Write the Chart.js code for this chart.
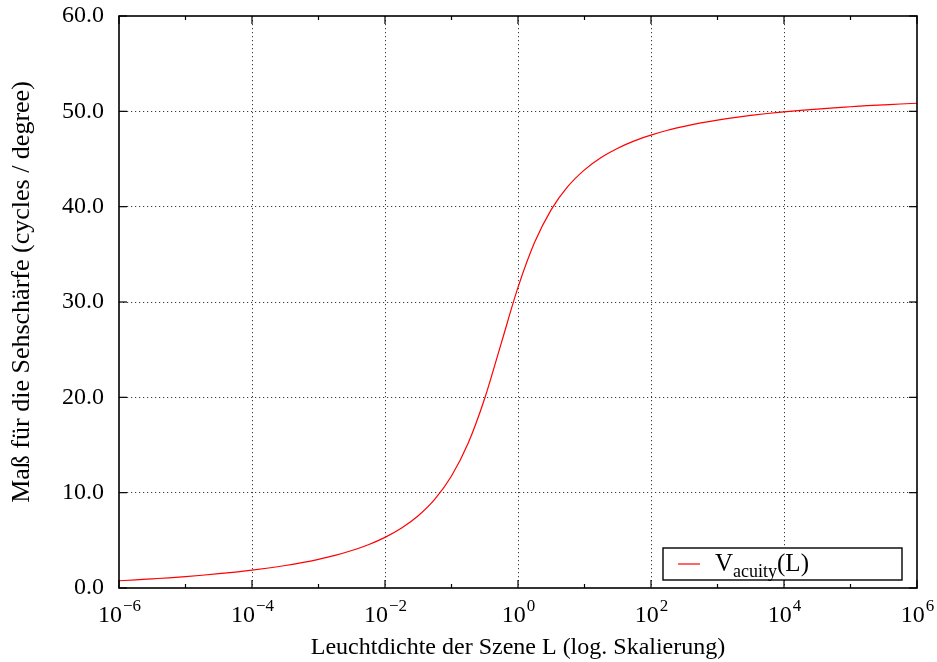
<!DOCTYPE html>
<html>
<head>
<meta charset="utf-8">
<title>Sehschärfe</title>
<script src="https://cdn.jsdelivr.net/npm/chart.js@4.4.1/dist/chart.umd.min.js"></script>
<style>
  body { margin: 0; background: #fff; }
</style>
</head>
<body>
<canvas id="acuityChart" width="937" height="662"></canvas>
<script>
// Leuchtdichte as powers of ten, one point every quarter decade
const logLuminance = [
  -6, -5.75, -5.5, -5.25, -5, -4.75, -4.5, -4.25, -4, -3.75, -3.5, -3.25,
  -3, -2.75, -2.5, -2.25, -2, -1.75, -1.5, -1.25, -1, -0.75, -0.5, -0.25,
  0, 0.25, 0.5, 0.75, 1, 1.25, 1.5, 1.75, 2, 2.25, 2.5, 2.75,
  3, 3.25, 3.5, 3.75, 4, 4.25, 4.5, 4.75, 5, 5.25, 5.5, 5.75, 6
];
// Sehschärfe in cycles / degree
const acuity = [
  0.76, 0.85, 0.96, 1.07, 1.20, 1.34, 1.50, 1.67, 1.87, 2.10, 2.36, 2.66,
  3.01, 3.42, 3.93, 4.54, 5.31, 6.29, 7.58, 9.32, 11.75, 15.18, 19.91, 25.72,
  31.53, 36.26, 39.69, 42.12, 43.86, 45.15, 46.13, 46.90, 47.51, 48.02, 48.43, 48.78,
  49.08, 49.34, 49.57, 49.77, 49.94, 50.10, 50.24, 50.37, 50.48, 50.59, 50.68, 50.77, 50.85
];
const xDecades = [-6, -5, -4, -3, -2, -1, 0, 1, 2, 3, 4, 5, 6];
const yTicks = [0, 10, 20, 30, 40, 50, 60];
const seriesName = ['V', 'acuity', '(L)'];
const xTitle = 'Leuchtdichte der Szene L (log. Skalierung)';
const yTitle = 'Maß für die Sehschärfe (cycles / degree)';

const FONT = '"Liberation Serif", "Times New Roman", serif';
const gridColor = '#3a3a3a';

const points = logLuminance.map((e, i) => ({ x: Math.pow(10, e), y: acuity[i] }));

// gnuplot-like frame: inward ticks, 10^n labels, y title and the key box
const gnuFrame = {
  id: 'gnuFrame',
  afterDatasetsDraw(chart) {
    const { ctx, chartArea: a, scales: { x, y } } = chart;
    ctx.save();
    ctx.strokeStyle = '#000';
    ctx.lineWidth = 1.2;
    const seg = (x1, y1, x2, y2) => {
      ctx.beginPath(); ctx.moveTo(x1, y1); ctx.lineTo(x2, y2); ctx.stroke();
    };
    xDecades.forEach(e => {
      const px = x.getPixelForValue(Math.pow(10, e));
      const len = e % 2 === 0 ? 8 : 4;
      seg(px, a.bottom, px, a.bottom - len);
      seg(px, a.top, px, a.top + len);
    });
    yTicks.forEach(v => {
      const py = y.getPixelForValue(v);
      seg(a.left, py, a.left + 8, py);
      seg(a.right, py, a.right - 8, py);
    });
    ctx.lineWidth = 1.6;
    ctx.strokeRect(a.left, a.top, a.right - a.left, a.bottom - a.top);

    // x tick labels: 10 with a raised exponent
    ctx.fillStyle = '#000';
    ctx.textBaseline = 'alphabetic';
    ctx.textAlign = 'left';
    xDecades.filter(e => e % 2 === 0).forEach(e => {
      const px = x.getPixelForValue(Math.pow(10, e));
      const exp = e < 0 ? '\u2212' + Math.abs(e) : String(e);
      ctx.font = '24px ' + FONT;
      const wBase = ctx.measureText('10').width;
      ctx.font = '17px ' + FONT;
      const wExp = ctx.measureText(exp).width;
      const x0 = px - (wBase + wExp) / 2;
      ctx.font = '24px ' + FONT;
      ctx.fillText('10', x0, a.bottom + 34);
      ctx.font = '17px ' + FONT;
      ctx.fillText(exp, x0 + wBase + 1, a.bottom + 23);
    });

    // y title, read bottom to top
    ctx.save();
    ctx.translate(22, 292);
    ctx.rotate(-Math.PI / 2);
    ctx.textAlign = 'center';
    ctx.textBaseline = 'middle';
    ctx.font = '26px ' + FONT;
    ctx.fillText(yTitle, 0, 0);
    ctx.restore();

    // key box at the lower right
    const bx = a.right - 254, by = a.bottom - 40, bw = 239, bh = 32;
    ctx.fillStyle = '#fff';
    ctx.fillRect(bx, by, bw, bh);
    ctx.lineWidth = 1.4;
    ctx.strokeRect(bx, by, bw, bh);
    const ds = chart.data.datasets[0];
    ctx.strokeStyle = ds.borderColor;
    ctx.lineWidth = ds.borderWidth;
    seg(bx + 15, by + bh / 2, bx + 37, by + bh / 2);
    ctx.fillStyle = '#000';
    ctx.font = '25px ' + FONT;
    let tx = bx + 52;
    ctx.fillText(seriesName[0], tx, by + 23);
    tx += ctx.measureText(seriesName[0]).width;
    ctx.font = '18px ' + FONT;
    ctx.fillText(seriesName[1], tx, by + 29);
    tx += ctx.measureText(seriesName[1]).width;
    ctx.font = '25px ' + FONT;
    ctx.fillText(seriesName[2], tx, by + 23);
    ctx.restore();
  }
};

const ctx = document.getElementById('acuityChart');

new Chart(ctx, {
  type: 'line',
  data: {
    datasets: [{
      label: seriesName.join(''),
      data: points,
      borderColor: '#ff0000',
      borderWidth: 1.2,
      pointRadius: 0,
      cubicInterpolationMode: 'monotone',
      fill: false
    }]
  },
  options: {
    responsive: false,
    animation: false,
    layout: { padding: { top: 16, right: 20, left: 0, bottom: 0 } },
    plugins: { legend: { display: false }, tooltip: { enabled: false } },
    scales: {
      x: {
        type: 'logarithmic',
        min: 1e-6,
        max: 1e6,
        afterBuildTicks: s => { s.ticks = xDecades.map(e => ({ value: Math.pow(10, e) })); },
        afterFit: s => { s.height = 74; s.paddingLeft = 0; s.paddingRight = 0; },
        ticks: { display: false },
        grid: {
          drawTicks: false,
          lineWidth: 1,
          color: c => {
            const e = Math.round(Math.log10(c.tick.value));
            return (e % 2 === 0 && Math.abs(e) < 6) ? gridColor : 'transparent';
          }
        },
        border: { display: false, dash: [1.2, 2.8] },
        title: {
          display: true,
          text: xTitle,
          color: '#000',
          font: { family: FONT, size: 24 },
          padding: { top: 0, bottom: 0 }
        }
      },
      y: {
        min: 0,
        max: 60,
        afterBuildTicks: s => { s.ticks = yTicks.map(v => ({ value: v })); },
        afterFit: s => { s.width = 119; s.paddingTop = 0; s.paddingBottom = 0; },
        ticks: {
          color: '#000',
          padding: 15,
          font: { family: FONT, size: 24 },
          callback: v => v.toFixed(1)
        },
        grid: {
          drawTicks: false,
          lineWidth: 1,
          color: c => (c.tick.value > 0 && c.tick.value < 60) ? gridColor : 'transparent'
        },
        border: { display: false, dash: [1.2, 2.8] }
      }
    }
  },
  plugins: [gnuFrame]
});
</script>
</body>
</html>
